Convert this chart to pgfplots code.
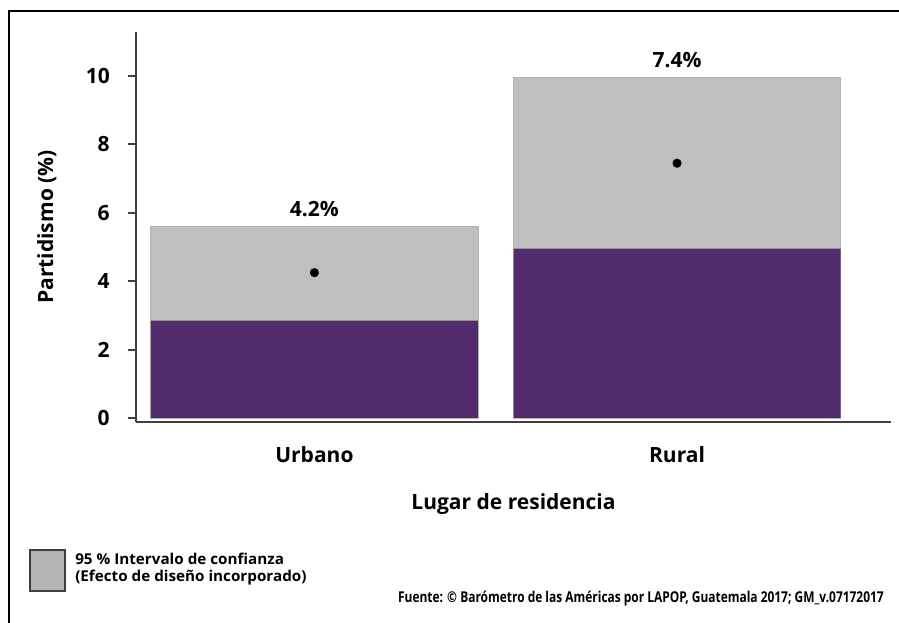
\documentclass[border=0pt]{standalone}
\usepackage{fontspec}
\setmainfont{Open Sans}
\usepackage{pgfplots}
\pgfplotsset{compat=1.18}
\usepackage{graphicx}

\definecolor{lapop}{RGB}{82,42,110}
\definecolor{cigray}{RGB}{191,191,191}
\definecolor{legray}{RGB}{180,180,180}
\definecolor{axgray}{RGB}{64,64,64}

\newcommand{\bigfont}{\bfseries\fontsize{15.75}{18}\selectfont}
\newcommand{\smallfont}{\bfseries\fontsize{11.2}{13}\selectfont}

\begin{document}
\begin{tikzpicture}
\useasboundingbox (0,0) rectangle (674.25pt,-467.25pt);
% frame and notes, in pixel units of the reference
\begin{scope}[x=0.75pt,y=-0.75pt]
  \draw[line width=1.5pt] (9,623) -- (9,11) -- (899,11);
  \draw[draw=black!75, line width=0.9pt, fill=legray] (30,550) rectangle (65,591);
  \node[anchor=base west, inner sep=0pt, font=\smallfont] at (75,564) {\scalebox{1.02}[1]{95 \% Intervalo de confianza}};
  \node[anchor=base west, inner sep=0pt, font=\smallfont] at (75,581) {\scalebox{1.02}[1]{(Efecto de diseño incorporado)}};
  \node[anchor=base east, inner sep=0pt, font=\smallfont] at (884,602) {\scalebox{0.8}[1]{Fuente: © Barómetro de las Américas por LAPOP, Guatemala 2017; GM\_v.07172017}};
\end{scope}

\begin{axis}[
  at={(102pt,-316.5pt)}, anchor=south west,
  scale only axis, width=566.25pt, height=292.5pt,
  xmin=-0.492, xmax=1.590, ymin=-0.117, ymax=11.287,
  axis lines=left,
  axis line style={-, line width=1.5pt, color=axgray},
  xtick={0,1}, xticklabels={Urbano,Rural},
  x tick style={draw=none},
  ytick={0,2,4,6,8,10},
  y tick style={line width=1.5pt, color=axgray},
  tick align=outside, major tick length=6pt,
  /pgf/number format/assume math mode=true,
  ticklabel style={font=\bigfont},
  xticklabel style={anchor=center, inner sep=0pt, yshift=-18.75pt},
  yticklabel style={anchor=east, inner sep=0pt, xshift=-13.5pt},
  xlabel={Lugar de residencia},
  ylabel={Partidismo (\%)},
  label style={font=\bigfont},
  xlabel style={at={(axis description cs:0.5,-0.21)}, anchor=center},
  ylabel style={at={(axis description cs:-0.118,0.5)}, anchor=center},
  ybar, bar width=0.902,
  clip=false,
]
% upper limit of the 95% interval
\addplot[bar shift=0pt, fill=cigray, draw=black!30, line width=0.6pt]
  coordinates {(0,5.60) (1,9.95)};
% lower limit of the 95% interval
\addplot[bar shift=0pt, fill=lapop, draw=none]
  coordinates {(0,2.85) (1,4.95)};
% estimate
\addplot[only marks, mark=*, mark size=3.2pt, black]
  coordinates {(0,4.25) (1,7.45)};
\node[anchor=base, inner sep=0pt, yshift=7.5pt, font=\bigfont] at (axis cs:0,5.60) {4.2\%};
\node[anchor=base, inner sep=0pt, yshift=7.5pt, font=\bigfont] at (axis cs:1,9.95) {7.4\%};
\end{axis}
\end{tikzpicture}
\end{document}
